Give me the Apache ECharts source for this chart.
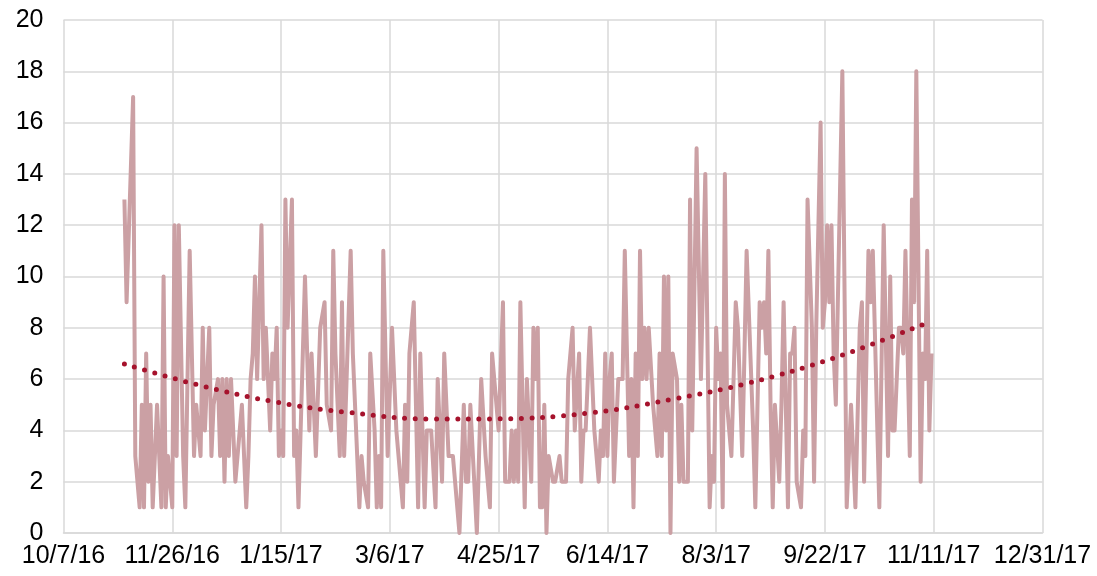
<!DOCTYPE html>
<html>
<head>
<meta charset="utf-8">
<script src="https://cdn.jsdelivr.net/npm/echarts@6/dist/echarts.min.js"></script>
<style>
  html, body { margin: 0; background: #fff; }
  #chart { width: 1097px; height: 576px; }
</style>
</head>
<body>
<div id="chart"></div>
<script>
// daily readings (only the turning points)
const dates = [
  '11/4/16','11/5/16','11/8/16','11/9/16','11/11/16','11/12/16','11/13/16','11/14/16','11/15/16','11/16/16','11/17/16','11/19/16','11/21/16','11/22/16','11/23/16','11/24/16','11/26/16','11/27/16','11/28/16','11/29/16',
  '12/1/16','12/2/16','12/4/16','12/6/16','12/7/16','12/8/16','12/9/16','12/10/16','12/11/16','12/13/16','12/14/16','12/15/16','12/17/16','12/18/16','12/19/16','12/20/16','12/21/16','12/22/16','12/23/16','12/25/16','12/28/16','12/30/16','12/31/16',
  '1/1/17','1/2/17','1/3/17','1/4/17','1/6/17','1/7/17','1/8/17','1/10/17','1/11/17','1/12/17','1/13/17','1/14/17','1/15/17','1/16/17','1/17/17','1/18/17','1/20/17','1/21/17','1/22/17','1/23/17','1/26/17','1/28/17','1/29/17','1/31/17',
  '2/2/17','2/4/17','2/5/17','2/7/17','2/8/17','2/9/17','2/11/17','2/12/17','2/13/17','2/16/17','2/17/17','2/18/17','2/20/17','2/21/17','2/22/17','2/24/17','2/25/17','2/27/17','2/28/17',
  '3/1/17','3/2/17','3/3/17','3/5/17','3/7/17','3/9/17','3/12/17','3/13/17','3/14/17','3/15/17','3/17/17','3/19/17','3/20/17','3/22/17','3/23/17','3/25/17','3/27/17','3/28/17','3/30/17','3/31/17',
  '4/2/17','4/4/17','4/7/17','4/9/17','4/10/17','4/11/17','4/12/17','4/15/17','4/17/17','4/19/17','4/21/17','4/22/17','4/23/17','4/25/17','4/27/17','4/28/17','4/30/17',
  '5/1/17','5/2/17','5/3/17','5/4/17','5/5/17','5/7/17','5/8/17','5/10/17','5/11/17','5/12/17','5/13/17','5/14/17','5/15/17','5/16/17','5/17/17','5/18/17','5/20/17','5/21/17','5/23/17','5/24/17','5/26/17','5/27/17','5/29/17','5/30/17',
  '6/1/17','6/2/17','6/3/17','6/4/17','6/6/17','6/8/17','6/10/17','6/11/17','6/12/17','6/13/17','6/14/17','6/15/17','6/16/17','6/17/17','6/19/17','6/21/17','6/22/17','6/24/17','6/25/17','6/26/17','6/27/17','6/28/17','6/29/17','6/30/17',
  '7/1/17','7/2/17','7/3/17','7/5/17','7/7/17','7/8/17','7/9/17','7/10/17','7/11/17','7/12/17','7/13/17','7/14/17','7/16/17','7/17/17','7/18/17','7/19/17','7/21/17','7/22/17','7/23/17','7/25/17','7/27/17','7/29/17','7/31/17',
  '8/1/17','8/2/17','8/3/17','8/4/17','8/5/17','8/6/17','8/7/17','8/8/17','8/10/17','8/12/17','8/13/17','8/15/17','8/17/17','8/20/17','8/21/17','8/23/17','8/24/17','8/25/17','8/26/17','8/27/17','8/28/17','8/29/17','8/30/17',
  '9/1/17','9/2/17','9/3/17','9/5/17','9/6/17','9/7/17','9/8/17','9/9/17','9/11/17','9/12/17','9/13/17','9/14/17','9/16/17','9/17/17','9/18/17','9/20/17','9/21/17','9/22/17','9/23/17','9/24/17','9/25/17','9/26/17','9/27/17','9/30/17',
  '10/2/17','10/4/17','10/6/17','10/8/17','10/9/17','10/10/17','10/12/17','10/13/17','10/14/17','10/17/17','10/19/17','10/21/17','10/22/17','10/23/17','10/24/17','10/26/17','10/27/17','10/28/17','10/29/17','10/30/17','10/31/17',
  '11/1/17','11/2/17','11/3/17','11/5/17','11/6/17','11/7/17','11/8/17','11/9/17','11/10/17'
];
const values = [
  13,9,17,3,1,5,1,7,2,5,1,5,1,10,1,3,1,12,3,12,
  3,1,11,3,5,4,3,8,4,8,3,5,6,3,6,2,6,3,6,2,5,1,3,
  6,7,10,6,12,6,8,4,7,6,8,3,4,3,13,8,13,3,4,1,10,4,7,3,
  8,9,5,4,11,7,3,9,3,11,7,5,1,3,2,1,7,4,1,
  3,1,11,3,8,4,1,5,2,7,9,1,7,1,4,4,1,6,2,7,
  3,3,0,5,2,2,5,0,6,3,1,7,6,4,9,2,2,
  4,2,4,2,9,1,6,2,8,6,8,1,1,5,0,3,2,2,3,2,2,6,8,4,
  7,2,4,4,8,4,2,4,3,7,3,6,7,2,6,6,11,3,6,1,7,3,11,6,
  8,6,8,5,3,7,3,10,4,10,0,7,6,2,5,2,2,13,4,15,6,14,1,
  3,2,8,6,7,1,14,5,3,9,8,3,11,4,1,9,8,9,7,11,5,1,5,
  2,5,9,1,7,7,8,2,1,4,3,13,8,2,8,16,8,9,12,9,12,7,5,18,
  1,5,1,8,9,2,11,9,11,1,12,3,10,4,4,8,8,7,11,7,3,
  13,9,18,2,7,6,11,4,7
];

// polynomial trendline
const trendDates = ['11/4/16','12/8/16','1/11/17','2/15/17','3/27/17','4/25/17','6/5/17','7/14/17','8/18/17','9/26/17','11/10/17'];
const trendValues = [6.59, 5.77, 5.13, 4.70, 4.44, 4.45, 4.67, 5.22, 5.85, 6.82, 8.26];

const xStart = '10/7/16';
const xEnd = '12/31/17';
const xStepDays = 50;

// date <-> spreadsheet serial day number
const EPOCH = Date.UTC(1899, 11, 30);
function toSerial(s) {
  const [m, d, y] = s.split('/').map(Number);
  return Math.round((Date.UTC(2000 + y, m - 1, d) - EPOCH) / 864e5);
}
function fromSerial(n) {
  const dt = new Date(EPOCH + n * 864e5);
  return (dt.getUTCMonth() + 1) + '/' + dt.getUTCDate() + '/' + String(dt.getUTCFullYear()).slice(2);
}

const chart = echarts.init(document.getElementById('chart'));
const font = "'Liberation Sans', Arial, sans-serif";
const gridColor = '#d9d9d9';

chart.setOption({
  animation: false,
  grid: { left: 63.5, right: 54.5, top: 20, bottom: 43 },
  xAxis: {
    type: 'value',
    min: toSerial(xStart),
    max: toSerial(xEnd),
    interval: xStepDays,
    axisLine: { lineStyle: { color: gridColor, width: 1.5 } },
    axisTick: { show: false },
    splitLine: { show: true, lineStyle: { color: gridColor, width: 1.5 } },
    axisLabel: {
      margin: 11, fontSize: 25, color: '#000', fontFamily: font,
      formatter: v => fromSerial(v)
    }
  },
  yAxis: {
    type: 'value',
    min: 0, max: 20, interval: 2,
    axisLine: { show: false },
    axisTick: { show: false },
    splitLine: { lineStyle: { color: gridColor, width: 1.5 } },
    axisLabel: { margin: 20, fontSize: 25, color: '#000', fontFamily: font }
  },
  series: [
    {
      type: 'line',
      data: dates.map((d, i) => [toSerial(d), values[i]]),
      showSymbol: false,
      lineStyle: { color: '#cba0a4', width: 4, join: 'round' },
      z: 2
    },
    {
      type: 'line',
      data: trendDates.map((d, i) => [toSerial(d), trendValues[i]]),
      showSymbol: false,
      smooth: 0.4,
      lineStyle: { color: '#a6122c', width: 5, type: [0, 10.6], cap: 'round' },
      z: 3
    }
  ]
});
</script>
</body>
</html>
